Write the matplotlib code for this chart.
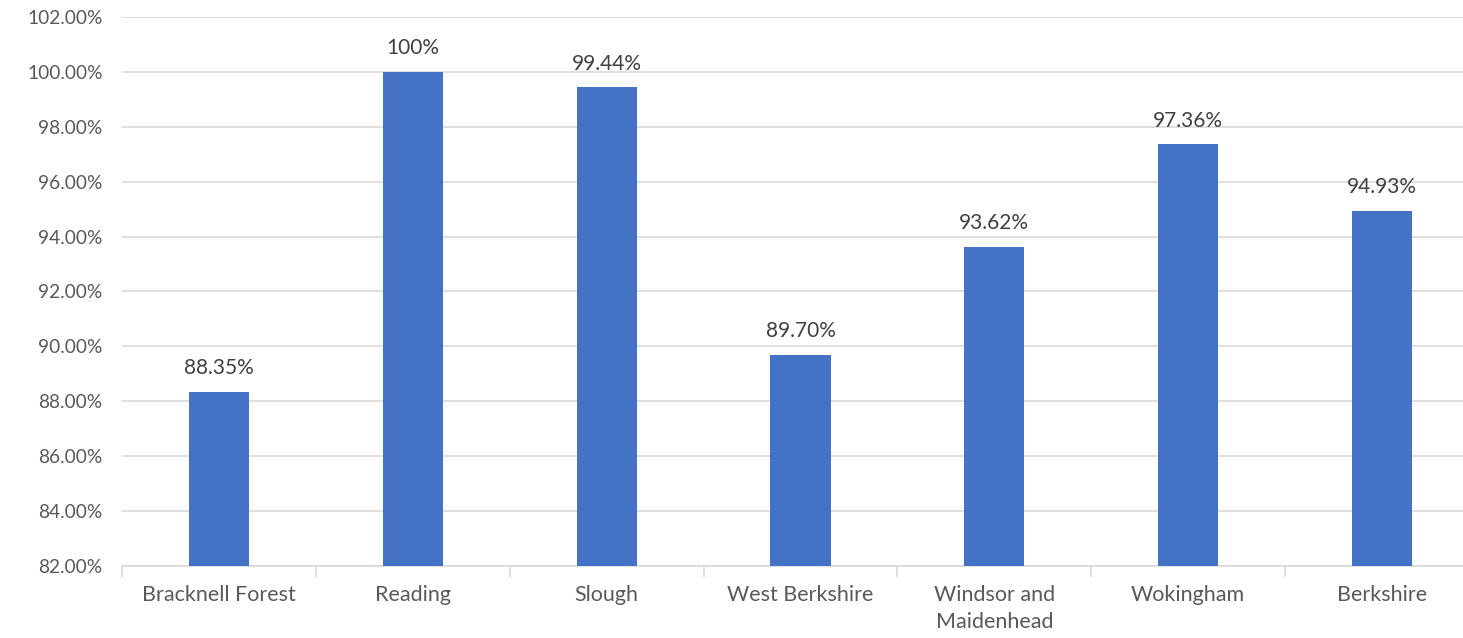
import matplotlib
matplotlib.use("Agg")
import matplotlib.pyplot as plt
from matplotlib.ticker import FuncFormatter, FixedLocator

categories = ["Bracknell Forest", "Reading", "Slough", "West Berkshire",
              "Windsor and\nMaidenhead", "Wokingham", "Berkshire"]
values = [88.35, 100.0, 99.44, 89.70, 93.62, 97.36, 94.93]
labels = ["88.35%", "100%", "99.44%", "89.70%", "93.62%", "97.36%", "94.93%"]
y_ticks = [82, 84, 86, 88, 90, 92, 94, 96, 98, 100, 102]

plt.rcParams["font.family"] = ["Lato", "DejaVu Sans"]
text_color = "#595959"
grid_color = "#D9D9D9"

fig = plt.figure(figsize=(14.63, 6.38), dpi=100)
ax = fig.add_axes([0.0834, 0.1129, 0.9275, 0.8605])

x = list(range(len(categories)))
ax.bar(x, [v - 82 for v in values], bottom=82, width=0.31, color="#4472C4", zorder=3)

for xi, v, lab in zip(x, values, labels):
    ax.text(xi, v + 0.5, lab, ha="center", va="bottom", fontsize=15, color="#404040")

ax.set_ylim(82, 102)
ax.set_xlim(-0.5, len(categories) - 0.5)
ax.yaxis.set_major_locator(FixedLocator(y_ticks))
ax.yaxis.set_major_formatter(FuncFormatter(lambda v, p: f"{v:.2f}%"))
ax.grid(axis="y", color=grid_color, linewidth=1.2, zorder=0)

for s in ["top", "right", "left"]:
    ax.spines[s].set_visible(False)
ax.spines["bottom"].set_color(grid_color)
ax.spines["bottom"].set_linewidth(1.2)

ax.tick_params(axis="y", length=0, labelsize=13.8, labelcolor=text_color, pad=14)
ax.set_xticks(x)
ax.set_xticklabels(categories, fontsize=15.5, color=text_color, linespacing=1.4)
ax.tick_params(axis="x", length=0, pad=14)

# boundary tick marks between categories
ax.set_xticks([i - 0.5 for i in range(len(categories) + 1)], minor=True)
ax.tick_params(axis="x", which="minor", length=8, color=grid_color, width=1.2)

fig.savefig("out.png", dpi=100)
